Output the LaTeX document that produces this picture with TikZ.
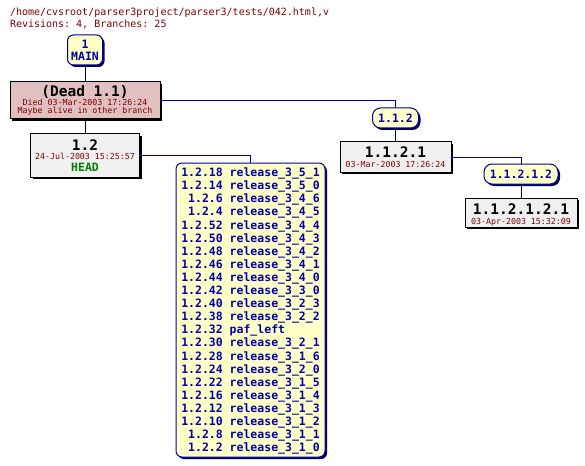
\documentclass[tikz,border=0pt]{standalone}
\usepackage{fontspec}
\setmonofont{DejaVu Sans Mono}
\usetikzlibrary{shadows}
\definecolor{yel}{RGB}{255,255,200}
\definecolor{deadfill}{RGB}{224,192,192}
\definecolor{revfill}{RGB}{240,240,240}
\definecolor{tagblue}{RGB}{0,0,170}
\definecolor{linkblue}{RGB}{0,0,200}
\definecolor{maroonc}{RGB}{128,0,0}
\definecolor{greenc}{RGB}{0,128,0}
\definecolor{navyc}{RGB}{0,0,80}
\begin{document}
\begin{tikzpicture}[x=1pt,y=-1pt,
  every node/.style={inner sep=0pt,outer sep=0pt},
  branchbox/.style={draw=tagblue,fill=yel,line width=1pt,rounded corners=6pt,
    drop shadow={shadow xshift=2pt,shadow yshift=-2pt,opacity=1,fill=navyc},
    font=\ttfamily\bfseries\fontsize{11.5}{12}\selectfont,text=tagblue,align=center},
  revbox/.style={draw=black,fill=revfill,line width=1pt,
    drop shadow={shadow xshift=2pt,shadow yshift=-2pt,opacity=1,fill=black}},
  deadbox/.style={revbox,fill=deadfill},
  bigtxt/.style={anchor=base,font=\ttfamily\bfseries\fontsize{14.5}{15}\selectfont,text=black},
  datetxt/.style={anchor=base,font=\ttfamily\fontsize{8.3}{9}\selectfont,text=maroonc},
  headtxt/.style={anchor=base west,font=\ttfamily\fontsize{10}{12}\selectfont,text=maroonc},
  blk/.style={draw=black,line width=1pt},
  blu/.style={draw=linkblue,line width=1pt}]
\useasboundingbox[fill=white] (0,0) rectangle (585,465);

\node[headtxt] (h1) at (10,16) {/home/cvsroot/parser3project/parser3/tests/042.html,v};
\node[headtxt] (h2) at (10,27.5) {Revisions: 4, Branches: 25};

\node[branchbox,minimum width=35pt,minimum height=30pt] (main) at (85,50) {1\\MAIN};
\node[deadbox,minimum width=150pt,minimum height=37pt] (dead) at (85,100.5) {};
\node[revbox,minimum width=109pt,minimum height=43pt] (r12) at (85,155.5) {};
\node[branchbox,minimum width=149pt,minimum height=294pt] (tags) at (250.5,310) {};
\node[branchbox,rounded corners=8pt,minimum width=46pt,minimum height=20pt] (b112) at (395.5,118) {1.1.2};
\node[revbox,minimum width=111pt,minimum height=30pt] (r1121) at (395.5,157) {};
\node[branchbox,rounded corners=8pt,minimum width=74pt,minimum height=20pt] (b11212) at (521,174) {1.1.2.1.2};
\node[revbox,minimum width=112pt,minimum height=29pt] (r112121) at (521,212.5) {};

\draw[blk] (main.south) -- (dead.north);
\draw[blk] (dead.south) -- (r12.north);
\draw[blu] (dead.east) -| (b112.north);
\draw[blu] (r12.east) -| (tags.north);
\draw[blk] (b112.south) -- (r1121.north);
\draw[blu] (r1121.east) -| (b11212.north);
\draw[blk] (b11212.south) -- (r112121.north);

% texts
\node[bigtxt] (deadA) at (85,97) {(Dead 1.1)};
\node[datetxt] (deadB) at (85,106) {Died 03-Mar-2003 17:26:24};
\node[datetxt] (deadC) at (85,114) {Maybe alive in other branch};

\node[bigtxt] (r12A) at (85,150) {1.2};
\node[datetxt] (r12B) at (85,159.5) {24-Jul-2003 15:25:57};
\node[anchor=base,font=\ttfamily\bfseries\fontsize{11.5}{12}\selectfont,text=greenc] (r12C) at (85,171) {HEAD};

\node[bigtxt] (r1121A) at (395.5,157.7) {1.1.2.1};
\node[datetxt] (r1121B) at (395.5,167.5) {03-Mar-2003 17:26:24};

\node[bigtxt] (r112121A) at (521,214.3) {1.1.2.1.2.1};
\node[datetxt] (r112121B) at (521,224) {03-Apr-2003 15:32:09};

\node[font=\ttfamily\bfseries\fontsize{11.5}{13.1}\selectfont,text=tagblue] (taglist) at (250.5,311.6) {%
\begin{tabular}{@{}r@{\ }l@{}}
1.2.18 & release\_3\_5\_1\\
1.2.14 & release\_3\_5\_0\\
1.2.6 & release\_3\_4\_6\\
1.2.4 & release\_3\_4\_5\\
1.2.52 & release\_3\_4\_4\\
1.2.50 & release\_3\_4\_3\\
1.2.48 & release\_3\_4\_2\\
1.2.46 & release\_3\_4\_1\\
1.2.44 & release\_3\_4\_0\\
1.2.42 & release\_3\_3\_0\\
1.2.40 & release\_3\_2\_3\\
1.2.38 & release\_3\_2\_2\\
1.2.32 & paf\_left\\
1.2.30 & release\_3\_2\_1\\
1.2.28 & release\_3\_1\_6\\
1.2.24 & release\_3\_2\_0\\
1.2.22 & release\_3\_1\_5\\
1.2.16 & release\_3\_1\_4\\
1.2.12 & release\_3\_1\_3\\
1.2.10 & release\_3\_1\_2\\
1.2.8 & release\_3\_1\_1\\
1.2.2 & release\_3\_1\_0
\end{tabular}};
\end{tikzpicture}
\end{document}
